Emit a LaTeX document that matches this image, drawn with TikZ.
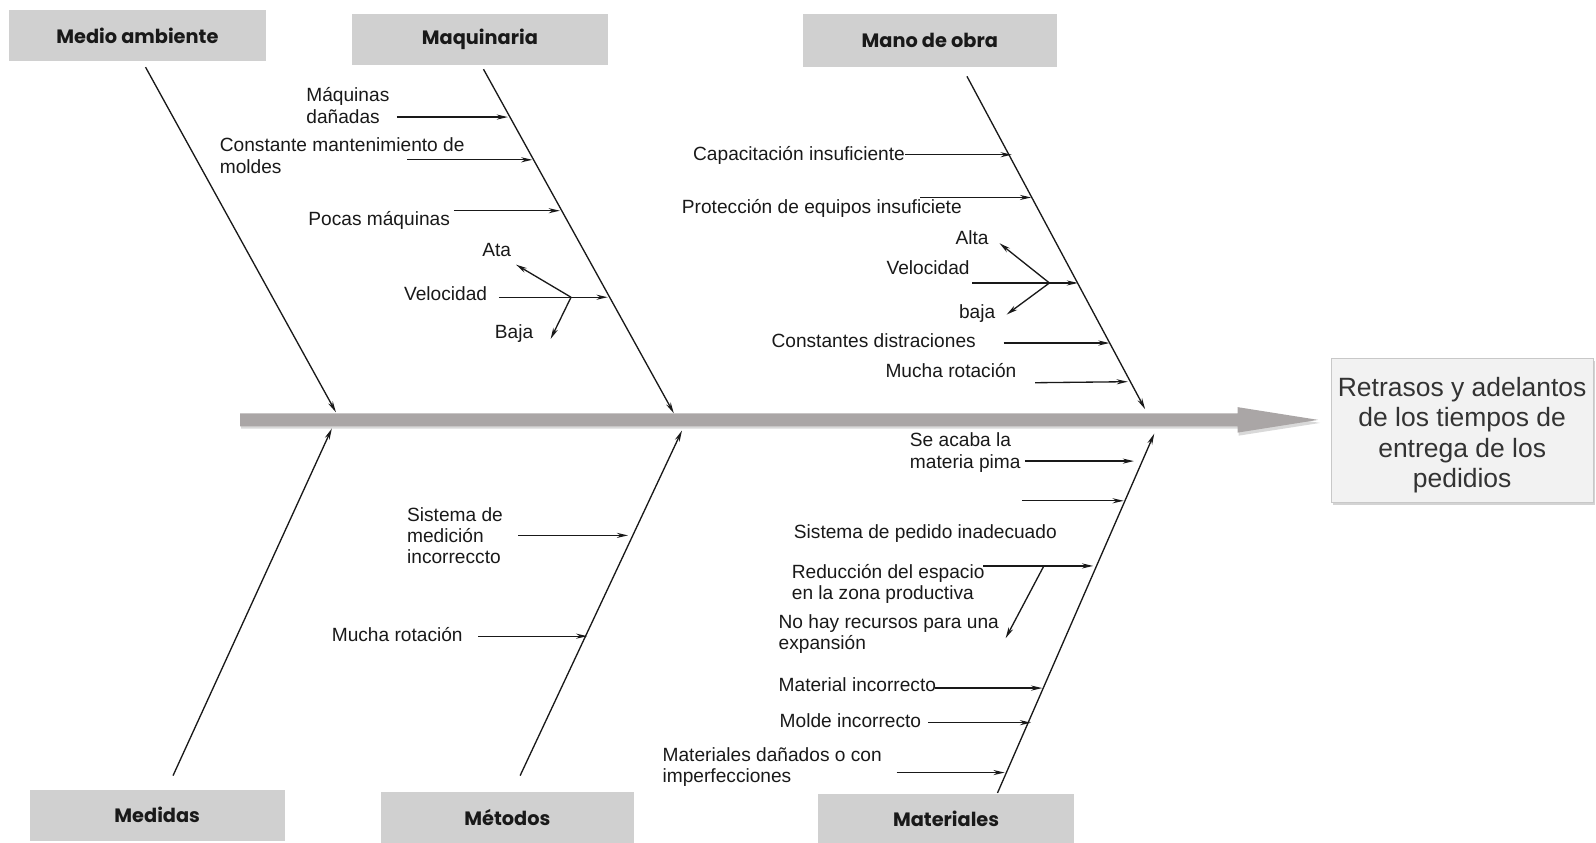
\documentclass[tikz,border=0pt]{standalone}
\usepackage{fontspec}
\setmainfont{Liberation Sans}
\newfontfamily\titlefont{Poppins}
\usetikzlibrary{arrows.meta,shadows,calc}

\definecolor{catgray}{RGB}{208,208,208}
\definecolor{spinegray}{RGB}{170,166,166}
\definecolor{effgray}{RGB}{242,242,242}
\definecolor{effborder}{RGB}{200,200,200}
\definecolor{ink}{RGB}{25,25,25}

\begin{document}
\begin{tikzpicture}[x=1pt,y=-1pt,
  every node/.style={inner sep=0pt,outer sep=0pt},
  catbox/.style={fill=catgray,text=ink,
    font=\titlefont\bfseries\fontsize{19}{22}\selectfont},
  bone/.style={line width=1.3pt,draw=ink,-{Stealth[length=11pt,width=5pt]}},
  branch/.style={line width=1.3pt,draw=ink,-{Stealth[length=11pt,width=5pt]}},
  lbl/.style={font=\fontsize{18.8}{21}\selectfont,text=ink,anchor=base west,align=left},
  clbl/.style={font=\fontsize{18.8}{21}\selectfont,text=ink,anchor=base},
  effect/.style={draw=effborder,fill=effgray,align=center,text=black!80,
    font=\fontsize{26}{30}\selectfont,
    drop shadow={opacity=0.35,shadow xshift=2pt,shadow yshift=-3pt}}
]
\useasboundingbox (0,0) rectangle (1568,828);

% ---------- category boxes ----------
\node[catbox,minimum width=252pt,minimum height=50pt] (amb) at (135,35) {Medio ambiente};
\node[catbox,minimum width=251pt,minimum height=50pt] (maq) at (471.5,39) {Maquinaria};
\node[catbox,minimum width=249pt,minimum height=52pt] (mob) at (913.5,40) {Mano de obra};
\node[catbox,minimum width=251pt,minimum height=50pt] (med) at (154.5,801) {Medidas};
\node[catbox,minimum width=249pt,minimum height=50pt] (met) at (498.5,803) {Métodos};
\node[catbox,minimum width=251pt,minimum height=48pt] (mat) at (929.5,804) {Materiales};

% ---------- effect ----------
\node[effect,minimum width=257pt,minimum height=141pt] (eff) at (1436.5,422.5)
  {\rule{0pt}{28.6pt}Retrasos y adelantos\\de los tiempos de\\entrega de los\\pedidios};

% ---------- spine ----------
\coordinate (tail) at (236,412.5);
\coordinate (head) at (1295,412.5);
\fill[black,opacity=0.15] (237,409) -- (1217,409) -- (1217,403) -- (1297,415.5)
  -- (1217,428) -- (1217,421) -- (237,421) -- cycle;
\fill[spinegray] ($(tail)+(0,-6.5)$) -- (1216,406) -- (1216,400) -- (head)
  -- (1216,425) -- (1216,419) -- ($(tail)+(0,6.5)$) -- cycle;

% ---------- main bones ----------
\coordinate (ambA) at (143,66);   \coordinate (ambB) at (330,405);
\coordinate (maqA) at (475,68);   \coordinate (maqB) at (662,406);
\coordinate (mobA) at (950,75);   \coordinate (mobB) at (1125,402);
\coordinate (medA) at (170,762);  \coordinate (medB) at (326,421);
\coordinate (metA) at (511,762);  \coordinate (metB) at (670,423);
\coordinate (matA) at (980,779);  \coordinate (matB) at (1134,426);
\draw[bone] (ambA) -- (ambB);
\draw[bone] (maqA) -- (maqB);
\draw[bone] (mobA) -- (mobB);
\draw[bone] (medA) -- (medB);
\draw[bone] (metA) -- (metB);
\draw[bone] (matA) -- (matB);

% ---------- Maquinaria ----------
\node[lbl] (q1) at (301,121) {Máquinas\\dañadas};
\coordinate (q1s) at (390,115); \coordinate (q1e) at (499,115);
\draw[branch] (q1s) -- (q1e);
\node[lbl] (q2) at (216,170) {Constante mantenimiento de\\moldes};
\coordinate (q2s) at (400,157); \coordinate (q2e) at (523,157);
\draw[branch] (q2s) -- (q2e);
\node[lbl] (q3) at (303,222) {Pocas máquinas};
\coordinate (q3s) at (446,207); \coordinate (q3e) at (550,207);
\draw[branch] (q3s) -- (q3e);
\node[lbl] (q4) at (397,295) {Velocidad};
\coordinate (q4s) at (490,292); \coordinate (q4e) at (597,292);
\coordinate (q4f) at (561,292);
\draw[branch] (q4s) -- (q4e);
\node[clbl] (q4a) at (488,252) {Ata};
\node[clbl] (q4b) at (505,333) {Baja};
\coordinate (q4at) at (507,260); \coordinate (q4bt) at (541,333);
\draw[branch] (q4f) -- (q4at);
\draw[branch] (q4f) -- (q4bt);

% ---------- Mano de obra ----------
\node[lbl] (o1) at (681,158) {Capacitación insuficiente};
\coordinate (o1s) at (889,152); \coordinate (o1e) at (994,152);
\draw[branch] (o1s) -- (o1e);
\node[lbl] (o2) at (670,210) {Protección de equipos insuficiete};
\coordinate (o2s) at (904,194); \coordinate (o2e) at (1013,194);
\draw[branch] (o2s) -- (o2e);
\node[lbl] (o3) at (871,270) {Velocidad};
\coordinate (o3s) at (955,278); \coordinate (o3e) at (1059,278);
\coordinate (o3f) at (1031,278);
\draw[branch] (o3s) -- (o3e);
\node[clbl] (o3a) at (955,240) {Alta};
\node[clbl] (o3b) at (960,313) {baja};
\coordinate (o3at) at (982,239); \coordinate (o3bt) at (989,309);
\draw[branch] (o3f) -- (o3at);
\draw[branch] (o3f) -- (o3bt);
\node[lbl] (o4) at (758,341) {Constantes distraciones};
\coordinate (o4s) at (986,337); \coordinate (o4e) at (1090,337);
\draw[branch] (o4s) -- (o4e);
\node[lbl] (o5) at (870,371) {Mucha rotación};
\coordinate (o5s) at (1017,376); \coordinate (o5e) at (1108,375);
\draw[branch] (o5s) -- (o5e);

% ---------- Métodos ----------
\node[lbl] (t1) at (400,554) {Sistema de\\medición\\incorreccto};
\coordinate (t1s) at (509,526); \coordinate (t1e) at (617,526);
\draw[branch] (t1s) -- (t1e);
\node[lbl] (t2) at (326,630) {Mucha rotación};
\coordinate (t2s) at (470,625); \coordinate (t2e) at (577,625);
\draw[branch] (t2s) -- (t2e);

% ---------- Materiales ----------
\node[lbl] (a1) at (894,460) {Se acaba la\\materia pima};
\coordinate (a1s) at (1007,453); \coordinate (a1e) at (1114,453);
\draw[branch] (a1s) -- (a1e);
\coordinate (a2s) at (1004,492); \coordinate (a2e) at (1104,492);
\draw[branch] (a2s) -- (a2e);
\node[lbl] (a3) at (780,529) {Sistema de pedido inadecuado};
\node[lbl] (a4) at (778,589) {Reducción del espacio\\en la zona productiva};
\coordinate (a4s) at (966,556); \coordinate (a4e) at (1074,556);
\draw[branch] (a4s) -- (a4e);
\coordinate (a5f) at (1025,557); \coordinate (a5t) at (988,627);
\draw[branch] (a5f) -- (a5t);
\node[lbl] (a5) at (765,638) {No hay recursos para una\\expansión};
\node[lbl] (a6) at (765,679) {Material incorrecto};
\coordinate (a6s) at (919,676); \coordinate (a6e) at (1024,676);
\draw[branch] (a6s) -- (a6e);
\node[lbl] (a7) at (766,715) {Molde incorrecto};
\coordinate (a7s) at (912,710); \coordinate (a7e) at (1013,710);
\draw[branch] (a7s) -- (a7e);
\node[lbl] (a8) at (651,769) {Materiales dañados o con\\imperfecciones};
\coordinate (a8s) at (881,759); \coordinate (a8e) at (987,759);
\draw[branch] (a8s) -- (a8e);
\end{tikzpicture}
\end{document}
